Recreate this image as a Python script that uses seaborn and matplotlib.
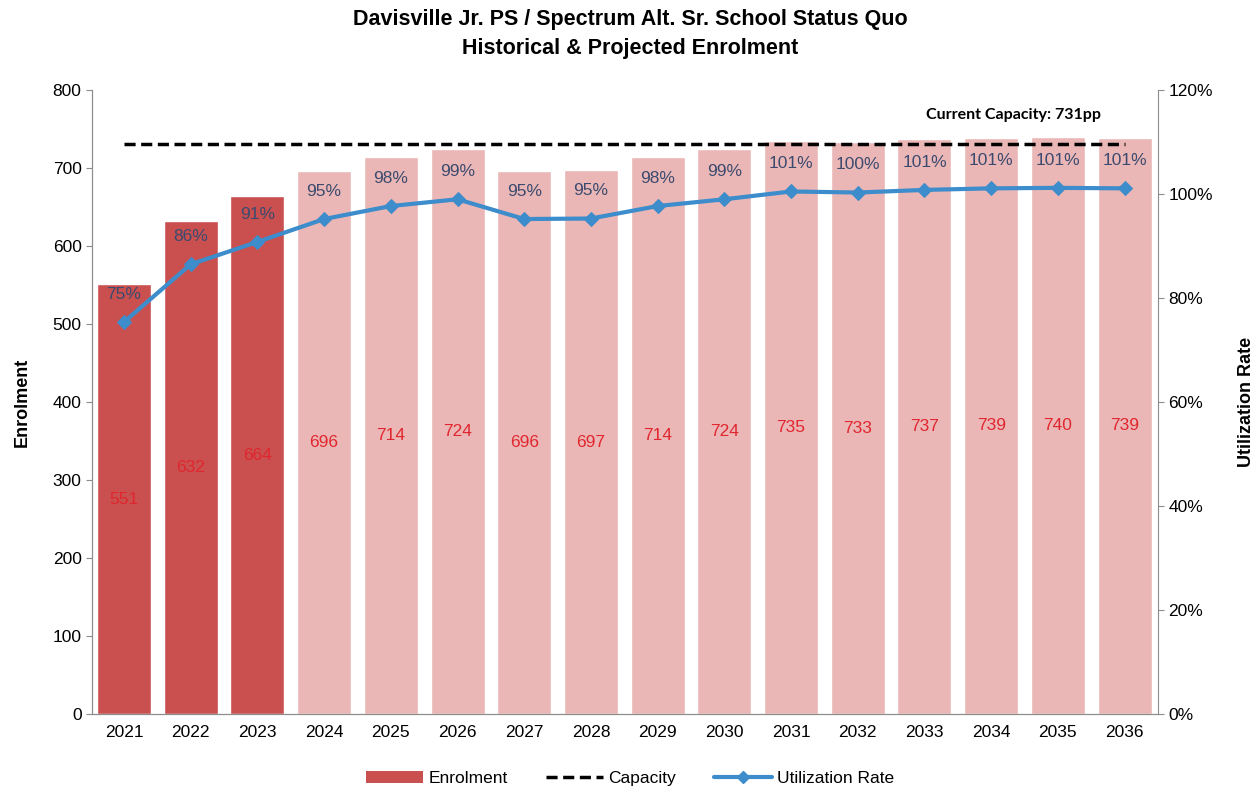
import numpy as np
import pandas as pd
import seaborn as sns
import matplotlib.pyplot as plt
from matplotlib.lines import Line2D
from matplotlib.patches import Patch

years = ['2021', '2022', '2023', '2024', '2025', '2026', '2027', '2028',
         '2029', '2030', '2031', '2032', '2033', '2034', '2035', '2036']
enrolment = [551, 632, 664, 696, 714, 724, 696, 697, 714, 724, 735, 733, 737, 739, 740, 739]
utilization = [75.4, 86.5, 90.8, 95.2, 97.7, 99.0, 95.2, 95.3, 97.7, 99.0,
               100.5, 100.3, 100.8, 101.1, 101.2, 101.1]
util_labels = ['75%', '86%', '91%', '95%', '98%', '99%', '95%', '95%', '98%', '99%',
               '101%', '100%', '101%', '101%', '101%', '101%']
phase = ['Historical'] * 3 + ['Projected'] * 13
capacity = 731

df = pd.DataFrame({'year': years, 'enrolment': enrolment, 'phase': phase})

sns.set_style('white')
plt.rcParams['font.family'] = ['Liberation Sans', 'DejaVu Sans']
plt.rcParams['text.color'] = 'black'
plt.rcParams['xtick.color'] = 'black'
plt.rcParams['ytick.color'] = 'black'
plt.rcParams['axes.labelcolor'] = 'black'

bar_hist = '#C9504F'
bar_proj = '#EBB7B6'
line_col = '#3D8CCB'
lbl_red = '#E0262E'
lbl_blue = '#3B4A6E'
spine_col = '#8C8C8C'

fig = plt.figure(figsize=(12.6, 7.9), dpi=100)
ax = fig.add_axes([0.073, 0.096, 0.846, 0.79])

sns.barplot(data=df, x='year', y='enrolment', hue='phase',
            palette={'Historical': bar_hist, 'Projected': bar_proj},
            dodge=False, width=0.81, legend=False, ax=ax, saturation=1)

for i, v in enumerate(enrolment):
    ax.text(i, v / 2, str(v), ha='center', va='center', fontsize=12.5, color=lbl_red)

# capacity line
ax.plot([0, len(years) - 1], [capacity, capacity], color='black', lw=2.5,
        ls=(0, (3.2, 1.6)))
ax.text(len(years) - 1.35, capacity + 37, 'Current Capacity: 731pp', ha='right',
        va='center', fontsize=11.5, fontweight='bold', family=['Lato', 'DejaVu Sans'])

ax.set_ylim(0, 800)
ax.set_xlim(-0.48, 15.5)
ax.set_yticks(range(0, 801, 100))
ax.set_xlabel('')
ax.set_ylabel('Enrolment', fontsize=13, fontweight='bold', labelpad=16)
ax.tick_params(axis='both', labelsize=12.5, length=4, color=spine_col, direction='out')
ax.tick_params(axis='x', length=0, pad=8)

ax2 = ax.twinx()
sns.lineplot(x=np.arange(len(years)), y=utilization, ax=ax2, color=line_col,
             lw=3, marker='D', markersize=7, markeredgecolor=line_col)
for i, (u, t) in enumerate(zip(utilization, util_labels)):
    ax2.annotate(t, (i, u), xytext=(0, 20), textcoords='offset points',
                 ha='center', va='center', fontsize=12.5, color=lbl_blue)
ax2.set_ylim(0, 120)
ax2.set_yticks(range(0, 121, 20))
ax2.set_yticklabels([f'{t}%' for t in range(0, 121, 20)])
ax2.set_ylabel('Utilization Rate', fontsize=13, fontweight='bold', labelpad=18)
ax2.tick_params(axis='y', labelsize=12.5, length=4, color=spine_col, direction='out')

for a in (ax, ax2):
    a.spines['top'].set_visible(False)
    for s in ('left', 'right', 'bottom'):
        a.spines[s].set_color(spine_col)
ax.spines['right'].set_visible(False)

fig.suptitle('Davisville Jr. PS / Spectrum Alt. Sr. School Status Quo\nHistorical & Projected Enrolment',
             fontsize=15.5, fontweight='bold', y=0.988, linespacing=1.45)

handles = [Patch(facecolor=bar_hist, edgecolor='none'),
           Line2D([0], [0], color='black', lw=2.5, ls=(0, (3.2, 1.6))),
           Line2D([0], [0], color=line_col, lw=3, marker='D', markersize=6)]
fig.legend(handles, ['Enrolment', 'Capacity', 'Utilization Rate'], loc='lower center',
           bbox_to_anchor=(0.5, -0.015), ncol=3, frameon=False, fontsize=12.5,
           handlelength=3.3, columnspacing=2.2, handletextpad=0.3)

fig.savefig('out.png', dpi=100)
